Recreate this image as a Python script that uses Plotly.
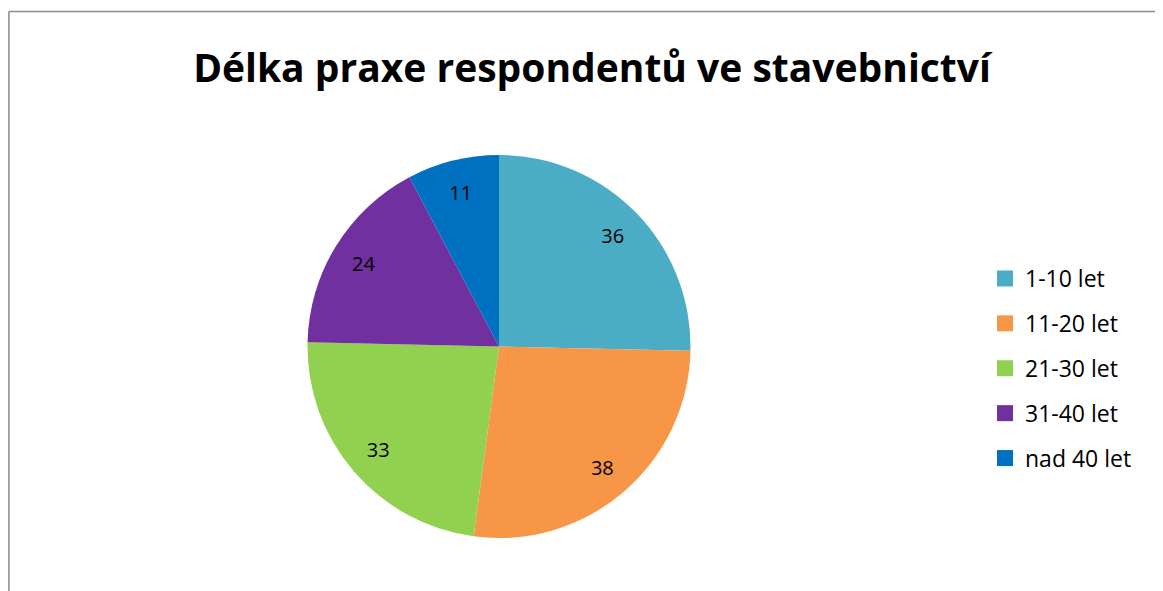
import plotly.graph_objects as go

categories = ["1-10 let", "11-20 let", "21-30 let", "31-40 let", "nad 40 let"]
values = [36, 38, 33, 24, 11]
colors = ["#4BACC6", "#F79646", "#92D050", "#7030A0", "#0070C0"]
title = "Délka praxe respondentů ve stavebnictví"

W, H = 1163, 591
OFF = 8  # page body margin


def px(x):
    return (x - OFF) / W


def py(y):
    return 1 - (y - OFF) / H


dom = dict(x=[px(307), px(691)], y=[py(538), py(155)])

fig = go.Figure()
# colored pie
fig.add_trace(go.Pie(
    labels=categories, values=values, sort=False, direction="clockwise",
    rotation=0, marker=dict(colors=colors, line=dict(width=0)),
    textinfo="none", domain=dom, automargin=False, showlegend=False,
    hoverinfo="label+value+percent",
))
# transparent ring that carries the value labels further out
fig.add_trace(go.Pie(
    labels=categories, values=values, sort=False, direction="clockwise",
    rotation=0, hole=0.66,
    marker=dict(colors=["rgba(0,0,0,0)"] * len(values), line=dict(width=0)),
    textinfo="value", textposition="inside", insidetextorientation="horizontal",
    textfont=dict(size=20, color="black", family="Open Sans"),
    domain=dom, automargin=False, showlegend=False, hoverinfo="skip",
))
# legend entries
for c, col in zip(categories, colors):
    fig.add_trace(go.Scatter(
        x=[None], y=[None], mode="markers", name=c, legendgroup=c,
        marker=dict(symbol="square", size=16, color=col, line=dict(width=0)),
        showlegend=True,
    ))

fig.update_layout(
    width=W, height=H,
    margin=dict(l=0, r=0, t=0, b=0),
    paper_bgcolor="white",
    plot_bgcolor="white",
    xaxis=dict(visible=False),
    yaxis=dict(visible=False),
    title=dict(text="<b>" + title + "</b>", x=px(592), xanchor="center",
               y=py(68), yanchor="middle",
               font=dict(size=39, color="black", family="Open Sans")),
    legend=dict(x=px(985), xanchor="left", y=py(257), yanchor="top",
                font=dict(size=23, color="black", family="Open Sans"),
                itemsizing="trace", traceorder="grouped", tracegroupgap=12,
                bgcolor="rgba(0,0,0,0)"),
    shapes=[
        dict(type="line", xref="paper", yref="paper", x0=0.9 / W, x1=0.9 / W,
             y0=0, y1=py(11.5), line=dict(color="#8C8C8C", width=1.5)),
        dict(type="line", xref="paper", yref="paper", x0=0.9 / W, x1=1,
             y0=py(11.5), y1=py(11.5), line=dict(color="#8C8C8C", width=1.5)),
    ],
)

fig.write_html("out.html")
